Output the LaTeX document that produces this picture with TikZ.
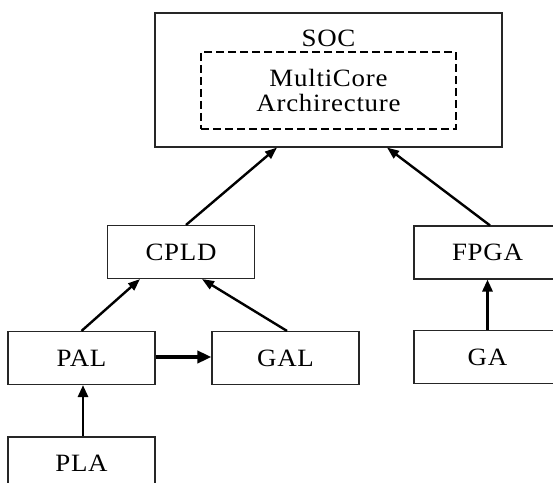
\documentclass[tikz,border=0pt]{standalone}
\usepackage{fontspec}
\setmainfont{Liberation Serif}[FakeStretch=1.08,LetterSpace=3]
\usetikzlibrary{arrows.meta}
\begin{document}
\begin{tikzpicture}[x=1bp,y=-1bp,
  box/.style={draw=black!85,line width=1.1bp,fill=white,inner sep=0pt,
    minimum width=147bp,minimum height=53bp,
    font=\fontsize{25}{26}\selectfont},
  label/.style={inner sep=0pt,font=\fontsize{25}{26}\selectfont},
  dashbox/.style={draw,line width=2.6bp,dash pattern=on 8bp off 4bp,
    inner sep=0pt,align=center,font=\fontsize{25}{26}\selectfont},
  link/.style={line width=2.4bp,-{Triangle[length=12bp,width=9bp]}},
  uplink/.style={line width=2.8bp,-{Triangle[length=12bp,width=10bp]}},
  sidelink/.style={line width=3.8bp,-{Triangle[length=14bp,width=12bp]}}]
  \useasboundingbox (0,0) rectangle (553,483);
  \clip (0,0) rectangle (553,483);

  % top level: system on chip with the multicore block inside
  \node[box,minimum width=347bp,minimum height=134bp] (soc) at (328.5,80) {};
  \node[label] (soclabel) at (328.5,38) {SOC};
  \node[dashbox,minimum width=255bp,minimum height=77bp] (mc) at (328.5,90.5)
    {MultiCore\\Archirecture};

  % programmable logic devices
  \node[box] (cpld) at (181,252) {CPLD};
  \node[box] (fpga) at (487.5,252.5) {FPGA};
  \node[box] (pal) at (81.5,358) {PAL};
  \node[box] (gal) at (285.5,358) {GAL};
  \node[box] (ga) at (487.5,357) {GA};
  \node[box] (pla) at (81.5,463.5) {PLA};

  % evolution arrows
  \draw[link] ([xshift=5bp]cpld.north) -- ([xshift=-51.5bp]soc.south);
  \draw[link] ([xshift=2.5bp]fpga.north) -- ([xshift=58.5bp]soc.south);
  \draw[link] (pal.north) -- ([xshift=-41bp]cpld.south);
  \draw[link] ([xshift=1.5bp]gal.north) -- ([xshift=21bp]cpld.south);
  \draw[sidelink] ([yshift=1bp]pal.east) -- ([yshift=1bp]gal.west);
  \draw[uplink] ([xshift=1.5bp]pla.north) -- ([xshift=1.5bp]pal.south);
  \draw[uplink] (ga.north) -- (fpga.south);
\end{tikzpicture}
\end{document}
